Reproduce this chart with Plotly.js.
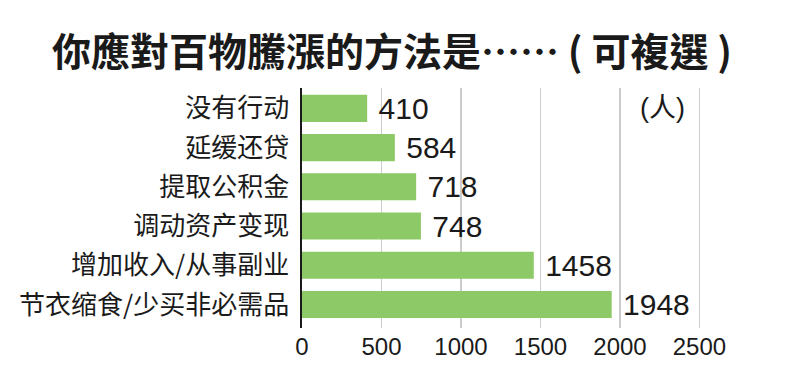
<!DOCTYPE html>
<html>
<head>
<meta charset="utf-8">
<script src="https://cdn.plot.ly/plotly-3.0.1.min.js"></script>
<style>html,body{margin:0;padding:0;background:#fff;}#chart{width:793px;height:381px;}</style>
</head>
<body>
<div id="chart"></div>
<script>
const categories = ["没有行动", "延缓还贷", "提取公积金", "调动资产变现", "增加收入/从事副业", "节衣缩食/少买非必需品"];
const values = [410, 584, 718, 748, 1458, 1948];
const xTicks = [0, 500, 1000, 1500, 2000, 2500];
const titleText = "你應對百物騰漲的方法是…… ( 可複選 )";
const unitText = "(人)";

const trace = {
  type: "bar",
  orientation: "h",
  y: categories,
  x: values,
  text: values.map(v => " " + v),
  textposition: "outside",
  constraintext: "none",
  cliponaxis: false,
  textfont: {family: "Liberation Sans, Arial, sans-serif", size: 30, color: "#1a1a1a"},
  marker: {color: "#8DC966"},
  hoverinfo: "none"
};

const layout = {
  width: 793, height: 381,
  margin: {l: 302, r: 84, t: 88, b: 53},
  paper_bgcolor: "#fff", plot_bgcolor: "#fff",
  showlegend: false,
  bargap: 0.31,
  title: {
    text: "<b>" + titleText + "</b>",
    font: {family: "Noto Sans CJK TC, sans-serif", size: 39, color: "#1a1a1a"},
    xref: "container", yref: "container",
    x: 52/793, xanchor: "left",
    y: 1 - 52/381, yanchor: "middle"
  },
  xaxis: {
    range: [0, 2560],
    tickvals: xTicks,
    ticktext: xTicks.map(String),
    showgrid: true, gridcolor: "#cccccc", gridwidth: 1.5,
    zeroline: false, showline: false,
    ticks: "",
    ticklabelstandoff: 2,
    tickfont: {family: "Liberation Sans, Arial, sans-serif", size: 24, color: "#1a1a1a"},
    fixedrange: true
  },
  yaxis: {
    type: "category",
    range: [5.6, -0.52],
    showgrid: false, zeroline: false,
    showline: true, linecolor: "#1a1a1a", linewidth: 2.5,
    ticks: "",
    ticklabelstandoff: 5,
    tickfont: {family: "Noto Sans CJK SC, sans-serif", size: 26, color: "#1a1a1a"},
    fixedrange: true
  },
  annotations: [{
    text: unitText,
    xref: "paper", yref: "paper",
    x: 1, xanchor: "right", xshift: -22,
    y: 1, yanchor: "middle", yshift: -20,
    showarrow: false,
    font: {family: "Liberation Sans, Noto Sans CJK SC, sans-serif", size: 27, color: "#1a1a1a"}
  }]
};

Plotly.newPlot("chart", [trace], layout, {displayModeBar: false, staticPlot: true});
</script>
</body>
</html>
